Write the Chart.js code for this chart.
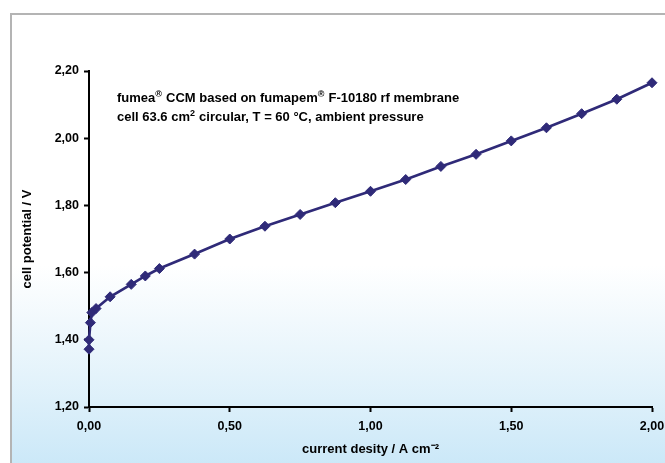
<!DOCTYPE html>
<html>
<head>
<meta charset="utf-8">
<script src="https://cdn.jsdelivr.net/npm/chart.js@4"></script>
<style>
  html, body { margin: 0; padding: 0; background: #ffffff; overflow: hidden; }
  #wrap { position: relative; width: 665px; height: 463px; overflow: hidden; }
  #bg { position: absolute; left: 10px; top: 13px; width: 700px; height: 500px;
        border-left: 2px solid #b4b4b4; border-top: 2px solid #b4b4b4;
        background: linear-gradient(to bottom, #ffffff 0px, #ffffff 250px, #e4f3fb 360px, #cbe8f8 450px, #c8e6f8 500px); }
  canvas { position: absolute; left: 0; top: 0; }
</style>
</head>
<body>
<div id="wrap">
  <div id="bg"></div>
  <canvas id="c" width="665" height="463"></canvas>
</div>
<script>
const currentDensity = [0, 0, 0.005, 0.01, 0.025, 0.075, 0.15, 0.2, 0.25, 0.375, 0.5, 0.625, 0.75, 0.875, 1.0, 1.125, 1.25, 1.375, 1.5, 1.625, 1.75, 1.875, 2.0];
const cellPotential  = [1.372, 1.400, 1.451, 1.481, 1.493, 1.528, 1.565, 1.590, 1.612, 1.655, 1.700, 1.738, 1.773, 1.808, 1.842, 1.877, 1.916, 1.952, 1.992, 2.031, 2.073, 2.116, 2.165];
const xTicks = [0, 0.5, 1.0, 1.5, 2.0];
const yTicks = [1.2, 1.4, 1.6, 1.8, 2.0, 2.2];
const annotationLines = [
  [["fumea", false], ["®", true], [" CCM based on fumapem", false], ["®", true], [" F-10180 rf membrane", false]],
  [["cell 63.6 cm", false], ["2", true], [" circular, T = 60 °C, ambient pressure", false]]
];

const FONT = "'Liberation Sans', Arial, sans-serif";
const fmt = v => v.toFixed(2).replace('.', ',');

const annotationPlugin = {
  id: 'annot',
  afterDraw(chart) {
    const ctx = chart.ctx;
    ctx.save();
    ctx.fillStyle = '#000';
    ctx.textBaseline = 'alphabetic';
    const x0 = 117, ys = [102, 121];
    annotationLines.forEach((parts, i) => {
      let x = x0;
      parts.forEach(([t, sup]) => {
        ctx.font = sup ? `bold 9px ${FONT}` : `bold 13px ${FONT}`;
        ctx.fillText(t, x, sup ? ys[i] - 5 : ys[i]);
        x += ctx.measureText(t).width + (sup ? 0.5 : 0);
      });
    });
    ctx.restore();
  }
};

new Chart(document.getElementById('c'), {
  type: 'scatter',
  data: {
    datasets: [{
      data: currentDensity.map((x, i) => ({ x: x, y: cellPotential[i] })),
      showLine: true,
      clip: false,
      borderColor: '#2f2a78',
      backgroundColor: '#2f2a78',
      borderWidth: 2.7,
      pointStyle: 'rectRot',
      pointRadius: 5,
      pointBorderWidth: 1,
      tension: 0
    }]
  },
  options: {
    responsive: false,
    animation: false,
    devicePixelRatio: 1,
    layout: { padding: { left: 8, top: 71, right: 13, bottom: 0 } },
    plugins: { legend: { display: false }, tooltip: { enabled: false } },
    scales: {
      x: {
        type: 'linear', min: 0, max: 2,
        afterBuildTicks: s => { s.ticks = xTicks.map(v => ({ value: v })); },
        afterFit: s => { s.height = 56; s.paddingLeft = 0; s.paddingRight = 0; },
        border: { display: true, color: '#000', width: 2 },
        grid: { drawOnChartArea: false, drawTicks: true, tickLength: 5, tickColor: '#000', tickWidth: 2 },
        ticks: { color: '#000', padding: 7, font: { family: FONT, size: 12.5, weight: 'bold' }, callback: v => fmt(v), maxRotation: 0 },
        title: { display: true, text: 'current desity / A cm⁻²', color: '#000', padding: { top: 0, bottom: 6 }, font: { family: FONT, size: 13, weight: 'bold' } }
      },
      y: {
        type: 'linear', min: 1.2, max: 2.2,
        afterBuildTicks: s => { s.ticks = yTicks.map(v => ({ value: v })); },
        afterFit: s => { s.width = 81; s.paddingTop = 0; s.paddingBottom = 0; },
        border: { display: true, color: '#000', width: 2 },
        grid: { drawOnChartArea: false, drawTicks: true, tickLength: 5, tickColor: '#000', tickWidth: 2 },
        ticks: { color: '#000', padding: 5, font: { family: FONT, size: 12.5, weight: 'bold' }, callback: v => fmt(v) },
        title: { display: true, text: 'cell potential / V', color: '#000', padding: { top: 12, bottom: 0 }, font: { family: FONT, size: 13, weight: 'bold' } }
      }
    }
  },
  plugins: [annotationPlugin]
});
</script>
</body>
</html>
